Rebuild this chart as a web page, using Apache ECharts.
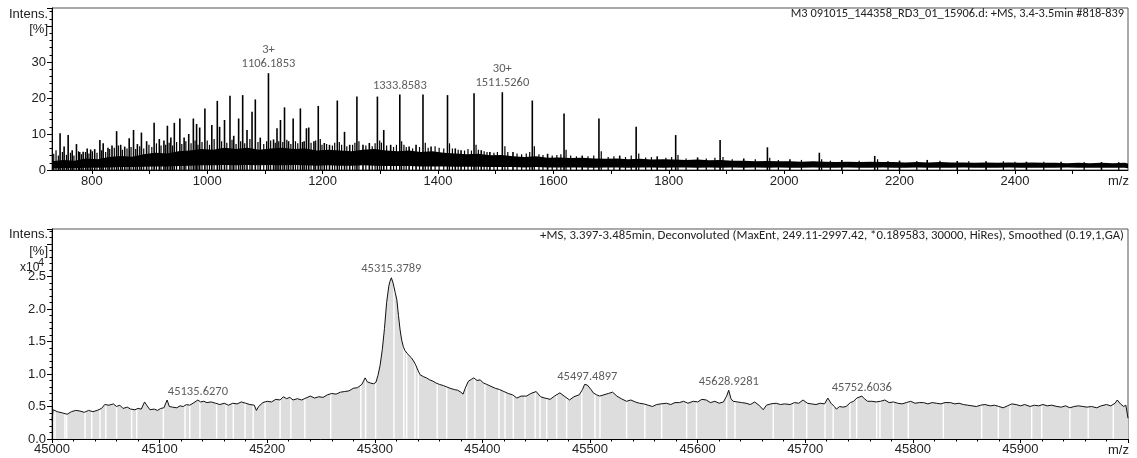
<!DOCTYPE html>
<html>
<head>
<meta charset="utf-8">
<script src="https://cdn.jsdelivr.net/npm/echarts@6/dist/echarts.min.js"></script>
<style>
  html, body { margin: 0; padding: 0; background: #fff; }
  #chart { width: 1137px; height: 458px; }
</style>
</head>
<body>
<div id="chart"></div>
<script>
// ---------- MS spectrum (m/z) ----------
const mzTicks  = [800, 900, 1000, 1100, 1200, 1300, 1400, 1500, 1600, 1700, 1800, 1900, 2000, 2100, 2200, 2300, 2400, 2500];
const mzLabels = [800, 1000, 1200, 1400, 1600, 1800, 2000, 2200, 2400];
const intTicks = [0, 10, 20, 30];

// resolved peaks (m/z, relative intensity %)
const msPeakMz = [745, 752, 759, 766, 773.4, 779, 785, 792, 798, 805, 814, 819.7, 828, 835, 843, 850, 857, 864.8, 872.3, 879,
  886, 895, 908, 917, 925, 931, 937, 943, 952.6, 960, 968, 976, 981.6, 987, 996, 1008, 1017.5, 1021.5, 1030, 1039.5,
  1046, 1054.5, 1061.5, 1069, 1077.7, 1083.4, 1092, 1106.1853, 1115, 1121, 1127, 1134, 1141, 1149, 1161.5, 1168, 1172, 1176, 1185, 1192.5,
  1203, 1212, 1225.5, 1238, 1247, 1259.5, 1270, 1281, 1295, 1306, 1318, 1333.8583, 1350, 1362, 1374, 1388, 1416.5, 1430, 1440, 1462.5,
  1475, 1490, 1511.5260, 1530, 1563.5, 1590, 1618.5, 1650, 1679, 1715, 1743.5, 1780, 1812, 1850, 1889, 1930, 1971, 2010, 2061, 2100,
  2157, 2200, 2248, 2300, 2350, 2420, 2480, 2550];
const msPeakInt = [10.2, 6.5, 9.7, 5.5, 7.2, 5.0, 5.1, 6.0, 5.7, 5.8, 8.3, 7.4, 6.2, 6.8, 10.8, 7.0, 6.5, 8.8, 11.1, 7.2,
  10.4, 8.0, 13.1, 8.6, 8.2, 12.3, 9.0, 13.1, 14.3, 9.0, 10.0, 14.3, 12.8, 11.8, 17.1, 12.5, 19.2, 12.0, 13.9, 20.6,
  9.5, 14.3, 20.8, 11.1, 16.2, 19.6, 9.0, 26.9, 8.5, 11.6, 13.9, 17.4, 8.0, 14.3, 17.1, 8.0, 11.6, 11.8, 8.0, 17.8,
  7.5, 7.0, 19.3, 10.6, 7.0, 20.4, 7.0, 7.5, 20.4, 11.1, 7.0, 21.0, 6.5, 7.0, 21.0, 6.5, 20.8, 6.0, 5.5, 21.3,
  5.5, 5.0, 21.6, 5.0, 19.3, 4.5, 15.7, 4.0, 14.3, 4.0, 12.0, 3.8, 9.7, 3.5, 8.3, 3.2, 6.3, 3.0, 4.8, 2.8,
  3.9, 2.6, 2.8, 2.5, 2.4, 2.3, 2.3, 2.2];

// small spikes riding on the noise band
const msNoiseMz = [734, 738, 742, 749, 756, 763, 769, 777, 782, 789, 795, 801, 809, 817, 824, 831, 839, 846, 853, 861,
  868, 876, 883, 890, 899, 904, 912, 920, 928, 934, 940, 947, 956, 963, 972, 979, 984, 991, 1000, 1004,
  1012, 1025, 1034, 1043, 1050, 1058, 1065, 1074, 1088, 1098, 1103, 1110, 1118, 1124, 1131, 1138, 1145, 1153, 1157, 1165,
  1180, 1188, 1196, 1199, 1207, 1217, 1221, 1229, 1233, 1242, 1252, 1256, 1263, 1275, 1286, 1291, 1299, 1302, 1311, 1323,
  1328, 1337, 1341, 1345, 1356, 1368, 1378, 1383, 1395, 1402, 1410, 1420, 1425, 1435, 1446, 1452, 1458, 1466, 1470, 1480,
  1485, 1497, 1503, 1516, 1521, 1537, 1545, 1553, 1559, 1567, 1575, 1582, 1598, 1606, 1613, 1622, 1630, 1640, 1660, 1670,
  1683, 1695, 1705, 1725, 1735, 1748, 1760, 1770, 1795, 1805, 1816, 1830, 1865, 1880, 1894, 1910, 1950, 1975, 1990, 2030,
  2065, 2080, 2130, 2162, 2180, 2230, 2270, 2320, 2380, 2400, 2450, 2520, 2580];
const msNoiseInt = [4.5, 5.5, 4.0, 5.0, 4.2, 4.8, 4.0, 5.2, 4.4, 5.0, 4.6, 5.2, 4.8, 5.5, 5.0, 5.8, 6.2, 6.8, 5.6, 6.0,
  6.4, 5.8, 6.6, 6.0, 7.0, 6.4, 7.4, 6.8, 7.0, 7.6, 6.8, 7.8, 7.2, 8.0, 7.4, 8.2, 7.0, 7.8, 8.2, 7.0,
  8.6, 8.0, 7.6, 8.4, 7.2, 8.0, 7.4, 8.6, 7.8, 7.2, 8.0, 8.2, 7.6, 8.0, 7.8, 8.4, 7.2, 8.0, 7.4, 7.8,
  7.6, 8.2, 8.6, 7.0, 7.2, 6.8, 7.6, 7.8, 7.0, 6.6, 7.0, 7.6, 8.0, 6.8, 6.6, 7.4, 8.2, 7.6, 6.8, 6.4,
  7.0, 8.0, 7.0, 6.4, 6.0, 6.4, 7.6, 6.2, 6.6, 6.2, 6.0, 7.4, 6.0, 5.6, 5.4, 5.8, 5.4, 7.0, 5.6, 5.2,
  5.0, 4.8, 5.0, 6.6, 5.0, 4.6, 4.4, 4.6, 5.0, 6.6, 4.4, 4.2, 4.0, 4.2, 4.4, 5.6, 4.0, 3.8, 3.8, 4.0,
  5.2, 3.6, 3.8, 3.6, 4.0, 4.6, 3.5, 3.6, 3.4, 3.6, 4.2, 3.2, 3.2, 3.4, 3.6, 3.0, 3.0, 3.4, 2.8, 2.8,
  3.0, 2.6, 2.6, 3.0, 2.5, 2.5, 2.6, 2.4, 2.4, 2.3, 2.3, 2.2, 2.2];

// dense chemical-noise band: upper and lower edge
const msBandMz = [731, 750, 770, 790, 810, 830, 850, 870, 890, 910, 930, 950, 970, 990, 1010, 1030, 1050, 1070, 1090, 1110,
  1130, 1150, 1170, 1190, 1210, 1230, 1250, 1270, 1290, 1310, 1330, 1350, 1370, 1390, 1410, 1430, 1450, 1470, 1490, 1510,
  1530, 1550, 1570, 1590, 1610, 1630, 1650, 1670, 1690, 1710, 1730, 1750, 1770, 1790, 1810, 1830, 1850, 1870, 1890, 1910,
  1930, 1950, 1970, 1990, 2010, 2030, 2050, 2070, 2090, 2110, 2130, 2150, 2170, 2190, 2210, 2230, 2250, 2270, 2290, 2310,
  2330, 2350, 2370, 2390, 2410, 2430, 2450, 2470, 2490, 2510, 2530, 2550, 2570, 2590, 2596];
const msBandHi = [2.4, 2.8, 2.6, 3.2, 3.0, 3.6, 3.9, 3.7, 4.4, 4.8, 4.6, 5.2, 5.4, 5.8, 5.6, 6.2, 5.8, 6.2, 5.6, 6.0,
  6.2, 5.8, 6.0, 5.4, 5.6, 5.4, 5.2, 5.6, 5.8, 5.4, 5.2, 5.4, 5.0, 5.2, 4.8, 4.6, 4.4, 4.5, 4.1, 4.2,
  3.8, 3.6, 3.8, 3.4, 3.5, 3.3, 3.4, 3.2, 3.1, 3.2, 3.0, 3.1, 2.9, 3.0, 2.9, 2.8, 2.9, 2.7, 2.8, 2.6,
  2.6, 2.4, 2.5, 2.4, 2.4, 2.3, 2.4, 2.3, 2.2, 2.3, 2.2, 2.3, 2.2, 2.2, 2.1, 2.2, 2.1, 2.2, 2.1, 2.1,
  2.0, 2.1, 2.0, 2.1, 2.0, 2.1, 2.0, 2.0, 1.9, 2.0, 1.9, 2.0, 1.9, 2.0, 1.8];
const msBandLo = [0.4, 0.5, 0.5, 0.6, 0.6, 0.7, 0.8, 0.8, 0.9, 1.0, 1.0, 1.1, 1.2, 1.3, 1.3, 1.4, 1.3, 1.4, 1.3, 1.4,
  1.3, 1.4, 1.3, 1.2, 1.3, 1.2, 1.2, 1.3, 1.2, 1.1, 1.1, 1.1, 1.0, 1.0, 1.0, 0.9, 0.9, 0.9, 0.8, 0.8,
  0.8, 0.7, 0.8, 0.7, 0.7, 0.7, 0.7, 0.6, 0.7, 0.7, 0.6, 0.7, 0.7, 0.6, 0.7, 0.7, 0.6, 0.7, 0.6, 0.7,
  0.6, 0.7, 0.6, 0.7, 0.6, 0.6, 0.7, 0.6, 0.6, 0.7, 0.6, 0.6, 0.7, 0.6, 0.6, 0.7, 0.6, 0.6, 0.6, 0.7,
  0.6, 0.6, 0.6, 0.7, 0.6, 0.6, 0.6, 0.6, 0.7, 0.6, 0.6, 0.6, 0.6, 0.6, 0.5];

const msLabelMz = [1106.1853, 1333.8583, 1511.5260];
const msLabelCharge = ['3+', '', '30+'];

// ---------- deconvoluted spectrum (mass) ----------
const massTicks = [45000, 45100, 45200, 45300, 45400, 45500, 45600, 45700, 45800, 45900];

const decMass = [45000, 45001, 45005, 45010, 45014, 45018, 45022, 45026, 45030, 45034, 45038, 45042, 45046, 45049, 45053, 45057, 45060, 45063, 45066, 45070,
  45073, 45077, 45080, 45083, 45086, 45088, 45091, 45095, 45098, 45101, 45104, 45107, 45109, 45112, 45116, 45119, 45122, 45125, 45128, 45131,
  45135.6270, 45138, 45141, 45144, 45148, 45152, 45156, 45160, 45164, 45168, 45172, 45176, 45180, 45184, 45188, 45190, 45192, 45196, 45200, 45204,
  45208, 45212, 45215, 45218, 45221, 45224, 45228, 45232, 45236, 45240, 45244, 45248, 45252, 45256, 45260, 45264, 45268, 45272, 45276, 45280,
  45284, 45288, 45291, 45293, 45296, 45299, 45301, 45303, 45305, 45307, 45309, 45311, 45313, 45314, 45315.3789, 45317, 45319, 45320.5, 45322, 45323.5,
  45325, 45326.5, 45328, 45330, 45332, 45334, 45336, 45338, 45340, 45342, 45345, 45348, 45351, 45354, 45357, 45360, 45364, 45367, 45370, 45374,
  45377, 45380, 45382, 45384, 45387, 45390, 45392, 45395, 45398, 45401, 45404, 45408, 45412, 45416, 45420, 45424, 45428, 45432, 45436, 45441,
  45445, 45450, 45454, 45458, 45463, 45467, 45472, 45476, 45481, 45485, 45490, 45493, 45495, 45497.4897, 45499, 45501, 45503, 45506, 45509, 45513,
  45517, 45521, 45525, 45529, 45534, 45538, 45542, 45546, 45550, 45554, 45558, 45562, 45566, 45571, 45575, 45579, 45583, 45587, 45591, 45596,
  45600, 45604, 45608, 45612, 45616, 45620, 45624, 45627, 45628.9281, 45631, 45633, 45637, 45641, 45645, 45649, 45653, 45657, 45661, 45664, 45668,
  45673, 45677, 45681, 45686, 45690, 45694, 45698, 45702, 45706, 45710, 45714, 45718, 45721, 45724, 45727, 45729, 45732, 45735, 45738, 45742,
  45745, 45748, 45752.6036, 45755, 45758, 45762, 45766, 45770, 45774, 45778, 45782, 45786, 45790, 45794, 45798, 45802, 45806, 45810, 45814, 45818,
  45822, 45826, 45830, 45835, 45839, 45843, 45847, 45851, 45855, 45859, 45863, 45867, 45872, 45876, 45880, 45884, 45888, 45892, 45896, 45900,
  45904, 45909, 45913, 45917, 45921, 45925, 45929, 45934, 45938, 45942, 45946, 45950, 45954, 45958, 45962, 45966, 45971, 45975, 45980, 45984,
  45988, 45990, 45993, 45996, 45998, 46000];
const decInt = [0.28, 0.45, 0.42, 0.40, 0.38, 0.42, 0.44, 0.43, 0.41, 0.44, 0.42, 0.44, 0.47, 0.53, 0.52, 0.54, 0.50, 0.52, 0.47, 0.49,
  0.46, 0.45, 0.47, 0.46, 0.57, 0.52, 0.45, 0.46, 0.44, 0.47, 0.48, 0.60, 0.50, 0.49, 0.48, 0.51, 0.50, 0.53, 0.52, 0.55,
  0.60, 0.57, 0.58, 0.56, 0.57, 0.55, 0.53, 0.55, 0.52, 0.55, 0.54, 0.57, 0.55, 0.53, 0.52, 0.44, 0.50, 0.56, 0.58, 0.57,
  0.61, 0.60, 0.65, 0.62, 0.64, 0.60, 0.62, 0.60, 0.63, 0.66, 0.63, 0.65, 0.64, 0.68, 0.70, 0.69, 0.72, 0.73, 0.74, 0.78,
  0.79, 0.84, 0.94, 0.88, 0.86, 0.85, 0.87, 0.98, 1.14, 1.38, 1.70, 2.10, 2.35, 2.42, 2.48, 2.40, 2.25, 2.14, 1.90, 1.68,
  1.52, 1.42, 1.36, 1.32, 1.28, 1.25, 1.20, 1.14, 1.06, 0.99, 0.96, 0.94, 0.91, 0.89, 0.86, 0.84, 0.82, 0.80, 0.78, 0.76,
  0.75, 0.72, 0.69, 0.78, 0.89, 0.92, 0.94, 0.90, 0.91, 0.86, 0.84, 0.81, 0.78, 0.76, 0.73, 0.70, 0.68, 0.63, 0.66, 0.66,
  0.70, 0.73, 0.65, 0.63, 0.61, 0.66, 0.71, 0.66, 0.60, 0.65, 0.68, 0.76, 0.84, 0.83, 0.80, 0.76, 0.71, 0.68, 0.66, 0.68,
  0.70, 0.72, 0.66, 0.62, 0.58, 0.60, 0.57, 0.55, 0.54, 0.52, 0.50, 0.53, 0.54, 0.55, 0.53, 0.56, 0.56, 0.58, 0.55, 0.58,
  0.57, 0.61, 0.60, 0.56, 0.58, 0.55, 0.57, 0.66, 0.75, 0.62, 0.58, 0.57, 0.56, 0.55, 0.53, 0.57, 0.52, 0.45, 0.52, 0.54,
  0.55, 0.53, 0.54, 0.53, 0.56, 0.55, 0.60, 0.55, 0.54, 0.53, 0.55, 0.54, 0.63, 0.55, 0.50, 0.46, 0.50, 0.49, 0.50, 0.56,
  0.58, 0.63, 0.66, 0.62, 0.58, 0.58, 0.57, 0.58, 0.60, 0.56, 0.57, 0.55, 0.54, 0.56, 0.58, 0.55, 0.56, 0.56, 0.54, 0.56,
  0.55, 0.54, 0.56, 0.56, 0.54, 0.55, 0.53, 0.52, 0.51, 0.50, 0.52, 0.53, 0.51, 0.52, 0.50, 0.48, 0.51, 0.54, 0.53, 0.51,
  0.53, 0.50, 0.52, 0.51, 0.53, 0.51, 0.52, 0.50, 0.49, 0.51, 0.48, 0.50, 0.51, 0.50, 0.49, 0.50, 0.48, 0.51, 0.53, 0.51,
  0.55, 0.60, 0.54, 0.50, 0.52, 0.32];

// masses where the filled profile shows white gaps
const decGaps = [45002.8, 45012, 45013.6, 45030.7, 45036.9, 45044.6, 45050, 45060, 45074, 45078.7, 45103.5, 45123.6, 45128, 45137.5,
  45153, 45161.7, 45168.5, 45179.4, 45187, 45198, 45212, 45222, 45235, 45259, 45287, 45291.5, 45300.8, 45317.8, 45327, 45329.6,
  45337.4, 45340.4, 45358, 45366.8, 45385.4, 45393, 45402.4, 45415.4, 45421, 45428.7, 45439.6, 45449, 45453.5, 45459.8, 45469,
  45478.3, 45492.3, 45504.6, 45509.3, 45534, 45551, 45566.6, 45589.8, 45599, 45627, 45634.8, 45670.3, 45689, 45701.4, 45718.4,
  45726, 45741.6, 45747.8, 45766.4, 45769.5, 45781.9, 45795.8, 45828.4, 45864, 45879.5, 45890.3, 45910.5, 45919.8, 45946, 45963, 45986.3];

const decLabelMass = [45135.6270, 45315.3789, 45497.4897, 45628.9281, 45752.6036];

// ---------- shared styles ----------
const AXIS_FONT = '"Liberation Sans", Arial, sans-serif';
const NOTE_FONT = 'Carlito, Lato, "Open Sans", sans-serif';

const msPeaks = msPeakMz.map((m, i) => [m, msPeakInt[i]]);
const msNoise = msNoiseMz.map((m, i) => [m, msNoiseInt[i]]);
const msLabels = msLabelMz.map((m, i) => [m, msPeakInt[msPeakMz.indexOf(m)], msLabelCharge[i]]);
const decLine = decMass.map((m, i) => [m, decInt[i]]);
const decLabels = decLabelMass.map(m => [m, decInt[decMass.indexOf(m)]]);

function stickRenderer(width) {
  return function (params, api) {
    const p0 = api.coord([api.value(0), 0]);
    const p1 = api.coord([api.value(0), api.value(1)]);
    return { type: 'line', shape: { x1: p0[0], y1: p0[1], x2: p1[0], y2: p1[1] },
             style: { stroke: '#000', lineWidth: width } };
  };
}

function bandItem(params, api) {
  const pts = [];
  for (let i = 0; i < msBandMz.length; i++) pts.push(api.coord([msBandMz[i], msBandHi[i]]));
  for (let i = msBandMz.length - 1; i >= 0; i--) pts.push(api.coord([msBandMz[i], msBandLo[i]]));
  return { type: 'polygon', shape: { points: pts }, style: { fill: '#000' } };
}

function gapItem(params, api) {
  const p0 = api.coord([api.value(0), 0]);
  const p1 = api.coord([api.value(0), 2.6]);
  return { type: 'line', shape: { x1: p0[0], y1: p0[1] - 0.5, x2: p1[0], y2: p1[1] },
           style: { stroke: '#fff', lineWidth: 1.4 } };
}

const plainNumber = v => String(v);

const axisCommon = {
  axisLine: { show: true, lineStyle: { color: '#000', width: 1 } },
  splitLine: { show: false },
  axisLabel: { color: '#222', fontFamily: AXIS_FONT, fontSize: 13 },
  z: 10
};

const option = {
  backgroundColor: '#fff',
  animation: false,
  grid: [
    { left: 52, right: 9, top: 8, height: 162, show: true, borderColor: '#555', borderWidth: 1, backgroundColor: 'transparent' },
    { left: 52, right: 9, top: 229, height: 210, show: true, borderColor: '#555', borderWidth: 1, backgroundColor: 'transparent' }
  ],
  xAxis: [
    Object.assign({}, axisCommon, {
      type: 'value', gridIndex: 0, min: 731, max: 2596,
      axisTick: { show: true, length: 4, customValues: mzTicks, lineStyle: { color: '#000' } },
      axisLabel: Object.assign({}, axisCommon.axisLabel, { customValues: mzLabels, margin: 5, formatter: plainNumber })
    }),
    Object.assign({}, axisCommon, {
      type: 'value', gridIndex: 1, min: 45000, max: 46000, interval: 100,
      axisTick: { show: true, length: 4, lineStyle: { color: '#000' } },
      minorTick: { show: true, splitNumber: 5, length: 2.5, lineStyle: { color: '#000' } },
      axisLabel: Object.assign({}, axisCommon.axisLabel, { customValues: massTicks, margin: 4, formatter: plainNumber })
    })
  ],
  yAxis: [
    Object.assign({}, axisCommon, {
      type: 'value', gridIndex: 0, min: 0, max: 45, interval: 10,
      axisTick: { show: true, length: 5, lineStyle: { color: '#000' } },
      minorTick: { show: true, splitNumber: 5, length: 2.5, lineStyle: { color: '#000' } },
      axisLabel: Object.assign({}, axisCommon.axisLabel, { customValues: intTicks, margin: 6, formatter: plainNumber })
    }),
    Object.assign({}, axisCommon, {
      type: 'value', gridIndex: 1, min: 0, max: 3.23, interval: 0.5,
      axisTick: { show: true, length: 5, lineStyle: { color: '#000' } },
      minorTick: { show: true, splitNumber: 5, length: 2.5, lineStyle: { color: '#000' } },
      axisLabel: Object.assign({}, axisCommon.axisLabel, {
        margin: 6, showMaxLabel: false,
        formatter: v => (v <= 2.5 + 1e-9 ? v.toFixed(1) : '')
      })
    })
  ],
  series: [
    { type: 'custom', xAxisIndex: 0, yAxisIndex: 0, data: [[731, 0]], renderItem: bandItem, silent: true, z: 2, clip: true },
    { type: 'custom', xAxisIndex: 0, yAxisIndex: 0, data: msNoise, renderItem: stickRenderer(1.2), silent: true, z: 3, clip: true },
    { type: 'custom', xAxisIndex: 0, yAxisIndex: 0, data: msPeaks, renderItem: stickRenderer(1.6), silent: true, z: 3, clip: true },
    {
      type: 'scatter', xAxisIndex: 0, yAxisIndex: 0, data: msLabels, symbolSize: 0, z: 5,
      label: {
        show: true, position: 'top', distance: 2, color: '#333', fontFamily: NOTE_FONT, fontSize: 12.5, lineHeight: 14,
        formatter: p => (p.value[2] ? p.value[2] + '\n' : '') + p.value[0].toFixed(4)
      }
    },
    {
      type: 'line', xAxisIndex: 1, yAxisIndex: 1, data: decLine, showSymbol: false, silent: true, z: 1,
      lineStyle: { width: 0, opacity: 0 }, areaStyle: { color: '#dddddd', opacity: 1 }
    },
    { type: 'custom', xAxisIndex: 1, yAxisIndex: 1, data: decGaps.map(m => [m, 0]), renderItem: gapItem, silent: true, z: 2, clip: true },
    {
      type: 'line', xAxisIndex: 1, yAxisIndex: 1, data: decLine, showSymbol: false, silent: true, z: 3,
      lineStyle: { width: 1, color: '#111' }
    },
    {
      type: 'scatter', xAxisIndex: 1, yAxisIndex: 1, data: decLabels, symbolSize: 0, z: 5,
      label: {
        show: true, position: 'top', distance: 2, color: '#333', fontFamily: NOTE_FONT, fontSize: 12.5,
        formatter: p => p.value[0].toFixed(4)
      }
    }
  ],
  graphic: [
    { type: 'text', right: 13, top: 8, style: { text: 'M3 091015_144358_RD3_01_15906.d: +MS, 3.4-3.5min #818-839', font: '12.4px ' + NOTE_FONT, fill: '#222' } },
    { type: 'text', right: 13, top: 229, style: { text: '+MS, 3.397-3.485min, Deconvoluted (MaxEnt, 249.11-2997.42, *0.189583, 30000, HiRes), Smoothed (0.19,1,GA)', font: '12.8px ' + NOTE_FONT, fill: '#222' } },
    { type: 'text', right: 1137 - 48, top: 8, style: { text: 'Intens.', font: '13px ' + AXIS_FONT, fill: '#222' } },
    { type: 'text', right: 1137 - 48, top: 23, style: { text: '[%]', font: '13px ' + AXIS_FONT, fill: '#222' } },
    { type: 'text', right: 1137 - 48, top: 228, style: { text: 'Intens.', font: '13px ' + AXIS_FONT, fill: '#222' } },
    { type: 'text', right: 1137 - 48, top: 245, style: { text: '[%]', font: '13px ' + AXIS_FONT, fill: '#222' } },
    { type: 'text', left: 20, top: 262, style: { text: 'x10', font: '12px ' + AXIS_FONT, fill: '#222' } },
    { type: 'text', left: 38, top: 257, style: { text: '4', font: '11px ' + AXIS_FONT, fill: '#222' } },
    { type: 'text', left: 1108, top: 175, style: { text: 'm/z', font: '13px ' + AXIS_FONT, fill: '#222' } },
    { type: 'text', left: 1108, top: 444, style: { text: 'm/z', font: '13px ' + AXIS_FONT, fill: '#222' } }
  ]
};

const chart = echarts.init(document.getElementById('chart'), null, { renderer: 'canvas' });
chart.setOption(option);
</script>
</body>
</html>
